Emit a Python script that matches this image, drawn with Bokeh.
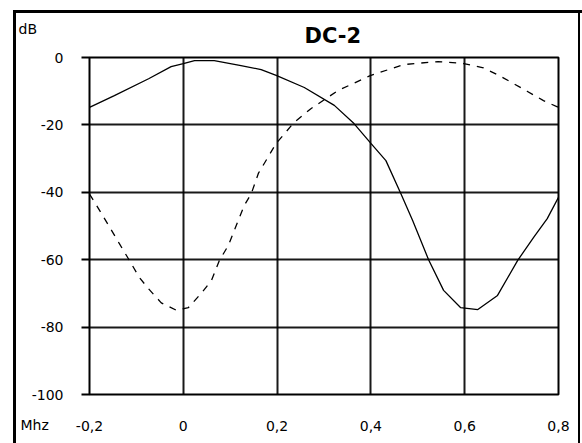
from bokeh.plotting import figure
from bokeh.models import FixedTicker, CustomJSTickFormatter, Label, Title
from bokeh.embed import file_html
from bokeh.resources import INLINE

# ---- data ----
solid_x = [-0.2, -0.147, -0.074, -0.026, 0.0, 0.024, 0.066, 0.123, 0.166, 0.198,
           0.258, 0.322, 0.364, 0.4, 0.432, 0.464, 0.489, 0.523, 0.555, 0.591,
           0.628, 0.67, 0.713, 0.747, 0.776, 0.8]
solid_y = [-14.8, -11.3, -6.3, -2.7, -1.8, -0.9, -0.9, -2.4, -3.6, -5.3,
           -8.9, -14.2, -19.6, -25.5, -30.6, -40.4, -48.4, -60.0, -69.1, -74.2,
           -74.8, -70.6, -60.2, -53.4, -47.8, -41.5]

dash_x = [-0.2, -0.174, -0.153, -0.136, -0.115, -0.094, -0.075, -0.047, -0.015, 0.011,
          0.038, 0.06, 0.077, 0.096, 0.117, 0.13, 0.145, 0.16, 0.18, 0.198,
          0.236, 0.272, 0.33, 0.4, 0.47, 0.543, 0.598, 0.64, 0.67, 0.705,
          0.733, 0.768, 0.8]
dash_y = [-40.5, -46.4, -51.3, -55.3, -60.2, -65.2, -68.5, -72.8, -75.0, -74.2,
          -70.0, -66.2, -60.2, -55.8, -48.4, -43.9, -40.4, -34.4, -29.7, -25.5,
          -19.3, -15.2, -9.8, -5.3, -2.1, -1.2, -1.8, -3.1, -5.1, -7.8,
          -10.0, -12.8, -14.8]

x_ticks = [-0.2, 0.0, 0.2, 0.4, 0.6, 0.8]
y_ticks = [0, -20, -40, -60, -80, -100]

title_text = "DC-2"
y_unit = "dB"
x_unit = "Mhz"

FONT = "DejaVu Sans"

p = figure(width=582, height=443, output_backend="svg", toolbar_location=None,
           x_range=(-0.2, 0.8), y_range=(-100, 0),
           min_border_left=88, min_border_right=24, min_border_top=57, min_border_bottom=49)
p.background_fill_color = "white"
p.border_fill_alpha = 0
p.outline_line_color = "black"
p.outline_line_width = 2
# outer black frame of the picture (left, top and right edges)
p.styles = {"box-shadow": "inset 13px 10px 0 0 white, inset 16px 13px 0 0 black, "
                          "inset -2px 0 0 0 white, inset -4px 0 0 0 black"}

p.add_layout(Title(text=title_text, align="left", offset=215, standoff=19,
                   text_font=FONT, text_font_size="21px", text_font_style="bold",
                   text_color="black"), "above")

# grid
for g in (p.xgrid, p.ygrid):
    g.grid_line_color = "black"
    g.grid_line_width = 2
    g.grid_line_alpha = 0.9
p.xgrid.ticker = FixedTicker(ticks=x_ticks)
p.ygrid.ticker = FixedTicker(ticks=y_ticks)

# axes
p.xaxis.ticker = FixedTicker(ticks=x_ticks)
p.xaxis.formatter = CustomJSTickFormatter(
    code="return (Math.abs(tick) < 1e-9) ? '0' : tick.toFixed(1).replace('.', ',');")
p.xaxis.axis_line_color = None
p.xaxis.major_tick_line_color = None
p.xaxis.minor_tick_line_color = None
p.xaxis.major_label_standoff = 20
p.yaxis.ticker = FixedTicker(ticks=y_ticks)
p.yaxis.formatter = CustomJSTickFormatter(code="return tick.toFixed(0);")
p.yaxis.axis_line_color = None
p.yaxis.minor_tick_line_color = None
p.yaxis.major_tick_line_color = "black"
p.yaxis.major_tick_line_width = 2
p.yaxis.major_tick_out = 8
p.yaxis.major_tick_in = 0
p.yaxis.major_label_standoff = 18
for ax in (p.xaxis, p.yaxis):
    ax.major_label_text_font = FONT
    ax.major_label_text_font_size = "14px"
    ax.major_label_text_color = "black"

# curves
p.line(solid_x, solid_y, line_color="black", line_width=1.3)
p.line(dash_x, dash_y, line_color="black", line_width=1.3, line_dash="7 7")

# unit labels placed in side panels (screen units, from panel bottom-left)
p.add_layout(Label(x=-540, y=366, x_units="screen", y_units="screen", text=y_unit,
                   text_font=FONT, text_font_size="14px", text_color="black",
                   text_baseline="middle", text_align="left"), "right")
p.add_layout(Label(x=20, y=-30, x_units="screen", y_units="screen", text=x_unit,
                   text_font=FONT, text_font_size="14px", text_color="black",
                   text_baseline="middle", text_align="left"), "left")

open("out.html", "w").write(file_html(p, INLINE))
